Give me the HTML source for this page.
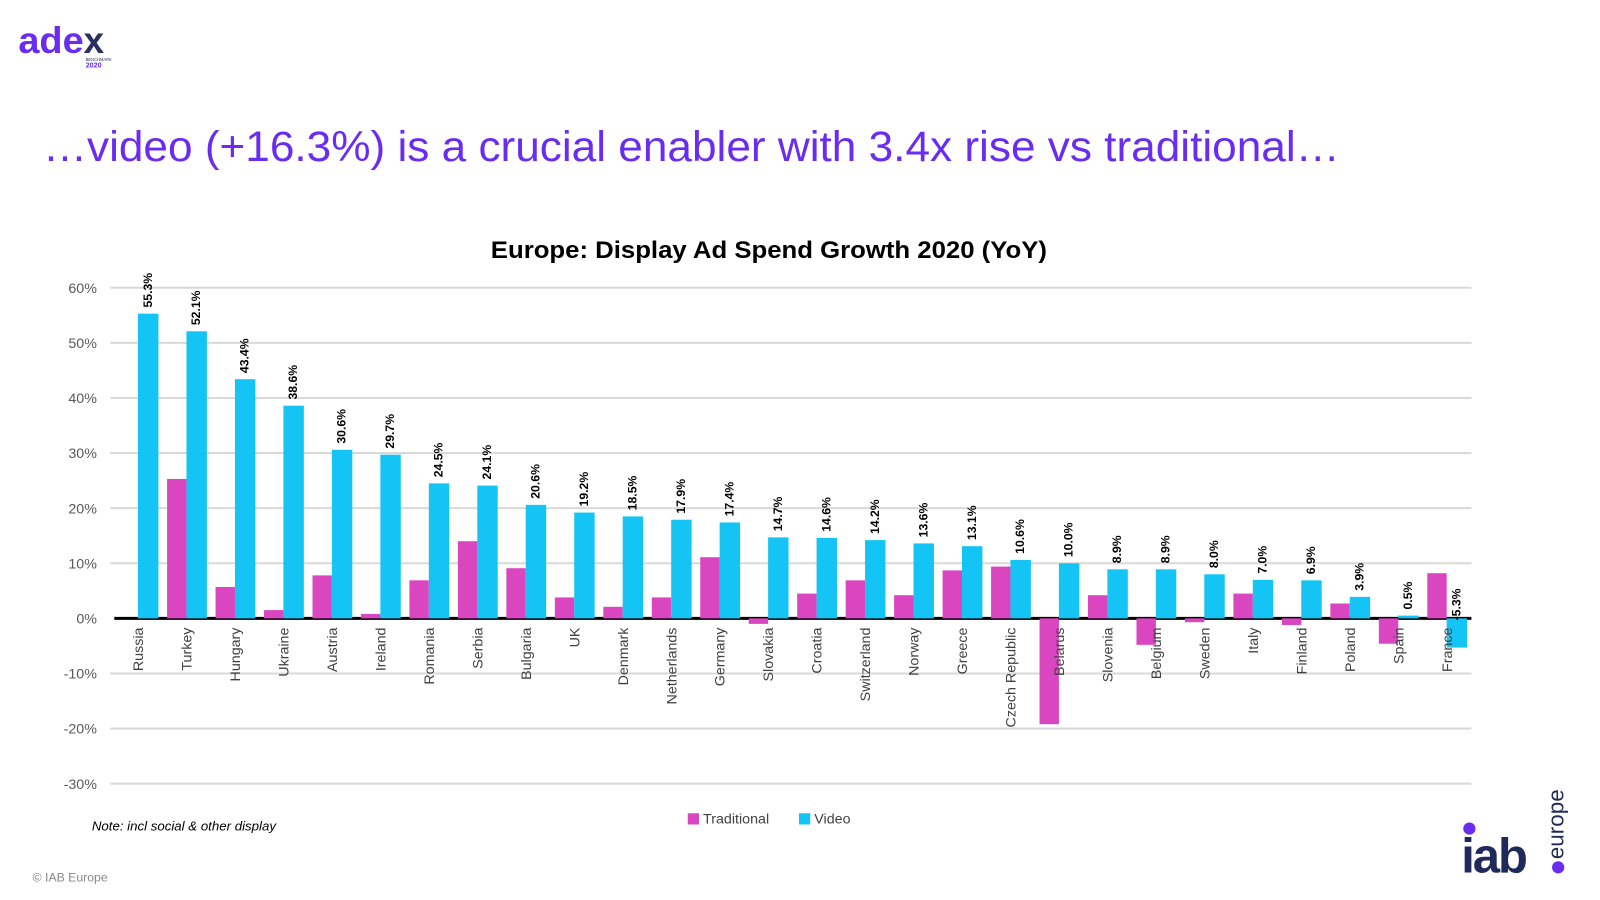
<!DOCTYPE html>
<html><head><meta charset="utf-8">
<style>
body{margin:0;width:1600px;height:900px;background:#fff;overflow:hidden;font-family:"Liberation Sans",sans-serif;position:relative}
svg{position:absolute;left:0;top:0}
</style></head>
<body>
<svg width="1600" height="900" viewBox="0 0 1568 882" preserveAspectRatio="none" id="chart">
  <g>
    <text x="18" y="52" font-size="36" font-weight="bold" fill="#6a2cf0" font-family="Liberation Sans, sans-serif" textLength="64" lengthAdjust="spacingAndGlyphs">ade</text>
    <text x="82" y="52" font-size="36" font-weight="bold" fill="#2b2f5e" font-family="Liberation Sans, sans-serif">x</text>
    <text x="84" y="60" font-size="4" fill="#2b2f5e">BENCHMARK</text>
    <text x="84" y="66" font-size="7" font-weight="bold" fill="#6a2cf0">2020</text>
  </g>
  <text x="42" y="158" font-size="42" fill="#6a2cf0" textLength="1271" lengthAdjust="spacingAndGlyphs">…video (+16.3%) is a crucial enabler with 3.4x rise vs traditional…</text>
  <text x="481" y="253" font-size="24" font-weight="bold" fill="#000" textLength="545" lengthAdjust="spacingAndGlyphs">Europe: Display Ad Spend Growth 2020 (YoY)</text>
  <g id="grid"></g><g id="bars"></g><g id="labels"></g>
  <g>
    <rect x="674" y="797" width="11" height="11" fill="#d946c0"/>
    <text x="689" y="807" font-size="14" fill="#404040">Traditional</text>
    <rect x="783" y="797" width="11" height="11" fill="#14c4f5"/>
    <text x="798" y="807" font-size="14" fill="#404040">Video</text>
  </g>
  <text x="90" y="814" font-size="13" font-style="italic" fill="#000">Note: incl social &amp; other display</text>
  <text x="32" y="864" font-size="12" fill="#888">© IAB Europe</text>
  <g>
    <circle cx="1440" cy="812" r="6" fill="#6a2cf0"/>
    <text x="1432" y="855" font-size="48" font-weight="bold" fill="#1f2a5a" letter-spacing="-2">iab</text>
    <circle cx="1527" cy="850" r="6" fill="#6a2cf0"/>
    <text x="1532" y="842" font-size="22" fill="#1f2a5a" transform="rotate(-90 1532 842)">europe</text>
  </g>
</svg>
<script>
const categories=["Russia","Turkey","Hungary","Ukraine","Austria","Ireland","Romania","Serbia","Bulgaria","UK","Denmark","Netherlands","Germany","Slovakia","Croatia","Switzerland","Norway","Greece","Czech Republic","Belarus","Slovenia","Belgium","Sweden","Italy","Finland","Poland","Spain","France"];
const traditional=[0,25.3,5.7,1.5,7.8,0.8,6.9,14.0,9.1,3.8,2.1,3.8,11.1,-1.0,4.5,6.9,4.2,8.7,9.4,-19.2,4.2,-4.8,-0.7,4.5,-1.2,2.7,-4.6,8.2];
const video=[55.3,52.1,43.4,38.6,30.6,29.7,24.5,24.1,20.6,19.2,18.5,17.9,17.4,14.7,14.6,14.2,13.6,13.1,10.6,10.0,8.9,8.9,8.0,7.0,6.9,3.9,0.5,-5.3];
const yTicks=[60,50,40,30,20,10,0,-10,-20,-30];
const NS="http://www.w3.org/2000/svg";
const x0=112,x1=1442,slot=(x1-x0)/categories.length,bw=19;
function y(v){return 606-v*5.4;}
function cx(i){return x0+slot*(i+0.5)-0.5;}
function mk(tag,attrs,parent){const e=document.createElementNS(NS,tag);for(const k in attrs)e.setAttribute(k,attrs[k]);document.getElementById(parent).appendChild(e);return e;}
yTicks.forEach(t=>{
  if(t!==0){const l=mk('line',{x1:108,x2:x1,y1:y(t),y2:y(t),stroke:'#d9d9d9','stroke-width':2},'grid');
  
  }
  const tx=mk('text',{x:95,y:y(t)+5,'font-size':14,'text-anchor':'end',fill:'#595959'},'grid');
  tx.textContent=t+'%';
  
  
});
categories.forEach((c,i)=>{
  const c0=cx(i);
  const tv=traditional[i],vv=video[i];
  const r1=mk('rect',{x:c0-bw,y:Math.min(y(tv),y(0)),width:bw,height:Math.abs(y(tv)-y(0)),fill:'#d946c0'},'bars');
  
  
  const r2=mk('rect',{x:c0,y:Math.min(y(vv),y(0)),width:bw+1,height:Math.abs(y(vv)-y(0)),fill:'#14c4f5'},'bars');
  
  
  const ly=(vv>=0?y(vv)-6:y(0)+2), lx=c0+bw/2+4;
  const vl=mk('text',{x:lx,y:ly,'font-size':12,'font-weight':'bold',fill:'#000',transform:`rotate(-90 ${lx} ${ly})`},'labels');
  vl.textContent=vv.toFixed(1)+'%';
  
  
  const cyy=615, cxx=c0+5;
  const cl=mk('text',{x:cxx,y:cyy,'font-size':14,'text-anchor':'end',fill:'#404040',transform:`rotate(-90 ${cxx} ${cyy})`},'labels');
  cl.textContent=c;
  
  
});
const ax=mk('line',{x1:112,x2:x1,y1:y(0),y2:y(0),stroke:'#000','stroke-width':3},'grid');


</script>
</body></html>
